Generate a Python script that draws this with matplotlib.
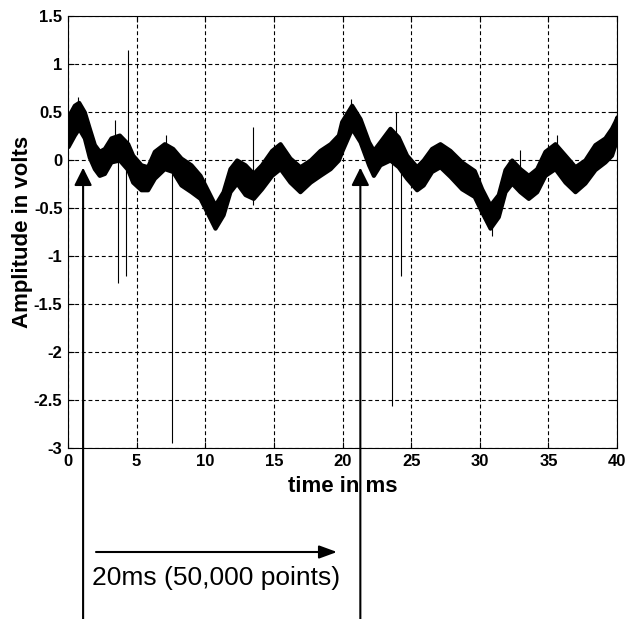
import numpy as np
import matplotlib.pyplot as plt
from matplotlib.ticker import FuncFormatter

# band of the noisy signal: upper / lower edge (volts)
time_ms = [0.0, 0.46, 0.78, 1.19, 1.55, 1.92, 2.28, 2.65, 3.13, 3.74, 4.35, 4.71,
           5.32, 5.8, 6.29, 7.02, 7.63, 8.23, 8.96, 9.62, 10.22, 10.71, 11.3, 11.8,
           12.29, 12.9, 13.5, 14.1, 14.84, 15.45, 16.17, 16.9, 17.65, 18.36, 19.1,
           19.7, 19.94, 20.67, 21.28, 21.9, 22.25, 22.73, 23.46, 24.06, 24.67, 25.4,
           25.88, 26.49, 27.1, 27.83, 28.68, 29.6, 30.14, 30.75, 31.35, 31.84, 32.33,
           32.93, 33.54, 34.15, 34.75, 35.48, 36.21, 36.94, 37.66, 38.39, 39.12,
           39.6, 39.85, 40.0]
upper_v = [0.45, 0.57, 0.60, 0.50, 0.33, 0.16, 0.09, 0.12, 0.23, 0.26, 0.17, 0.05,
           -0.05, -0.07, 0.09, 0.17, 0.12, 0.02, -0.05, -0.16, -0.33, -0.47, -0.33, -0.09,
           0.0, -0.05, -0.14, -0.05, 0.10, 0.17, 0.02, -0.07, 0.0, 0.10, 0.17,
           0.26, 0.40, 0.57, 0.43, 0.19, 0.10, 0.19, 0.33, 0.24, 0.05, -0.07,
           0.0, 0.12, 0.17, 0.10, -0.02, -0.11, -0.30, -0.47, -0.36, -0.10, 0.0,
           -0.09, -0.16, -0.09, 0.09, 0.17, 0.05, -0.07, 0.0, 0.16, 0.23,
           0.33, 0.40, 0.45]
lower_v = [0.14, 0.26, 0.33, 0.23, 0.03, -0.09, -0.16, -0.14, -0.02, 0.0, -0.10, -0.23,
           -0.31, -0.31, -0.19, -0.09, -0.12, -0.26, -0.33, -0.40, -0.57, -0.71, -0.57, -0.33,
           -0.24, -0.36, -0.40, -0.30, -0.16, -0.09, -0.23, -0.33, -0.23, -0.16, -0.09,
           0.0, 0.09, 0.33, 0.19, -0.05, -0.16, -0.05, 0.0, -0.07, -0.19, -0.31,
           -0.26, -0.12, -0.07, -0.17, -0.30, -0.38, -0.54, -0.71, -0.59, -0.33, -0.24,
           -0.33, -0.40, -0.33, -0.16, -0.09, -0.23, -0.33, -0.24, -0.10, -0.02,
           0.05, 0.16, 0.20]

# isolated spikes (time, low end, high end)
spike_t = [0.72, 3.42, 3.66, 4.20, 4.38, 7.14, 7.55, 13.5, 20.6, 23.63, 23.90, 24.26, 30.9, 32.9, 35.6]
spike_lo = [0.30, 0.10, -1.28, -1.21, -0.05, 0.00, -2.95, -0.47, 0.40, -2.56, 0.00, -1.21, -0.79, -0.10, 0.00]
spike_hi = [0.66, 0.42, 0.10, 0.05, 1.15, 0.26, 0.00, 0.34, 0.64, 0.10, 0.50, 0.05, -0.50, 0.10, 0.26]

marker_t = [1.1, 21.3]
x_ticks = [0, 5, 10, 15, 20, 25, 30, 35, 40]
y_ticks = [-3, -2.5, -2, -1.5, -1, -0.5, 0, 0.5, 1, 1.5]

plt.rcParams['axes.unicode_minus'] = False
plt.rcParams['font.family'] = 'Liberation Sans'

fig = plt.figure(figsize=(6.26, 6.19), dpi=100)
ax = fig.add_axes([68 / 626, 1 - 448 / 619, 549 / 626, 432 / 619])

ax.fill_between(time_ms, lower_v, upper_v, color='black', edgecolor='black', lw=3.0, zorder=2)
ax.vlines(spike_t, spike_lo, spike_hi, color='black', lw=0.8, zorder=2)

ax.set_xlim(0, 40)
ax.set_ylim(-3, 1.5)
ax.set_xticks(x_ticks)
ax.set_yticks(y_ticks)
ax.yaxis.set_major_formatter(FuncFormatter(lambda v, p: f'{v:g}'))
ax.grid(True, color='black', linestyle=(0, (3.5, 2.5)), lw=0.8)
ax.tick_params(direction='in', length=4, top=True, right=True, width=0.8, pad=4)
for lab in ax.get_xticklabels() + ax.get_yticklabels():
    lab.set_fontweight('bold')
    lab.set_fontsize(12)
for s in ax.spines.values():
    s.set_linewidth(0.8)

ax.set_xlabel('time in ms', fontweight='bold', fontsize=16, labelpad=5)
ax.set_ylabel('Amplitude in volts', fontweight='bold', fontsize=16)
ax.yaxis.set_label_coords(-0.064, 0.5)

# the two markers, running from the bottom of the figure up into the plot
for t in marker_t:
    ax.annotate('', xy=(t, -0.08), xycoords='data',
                xytext=(t, 0), textcoords=('data', 'figure fraction'),
                arrowprops=dict(arrowstyle='-|>,head_length=0.6,head_width=0.3', mutation_scale=18,
                                lw=1.5, color='black', shrinkA=0, shrinkB=0),
                annotation_clip=False, zorder=5)

ax.annotate('', xy=(19.6, 1 - 552 / 619), xycoords=('data', 'figure fraction'),
            xytext=(2.04, 1 - 552 / 619), textcoords=('data', 'figure fraction'),
            arrowprops=dict(arrowstyle='-|>,head_length=0.6,head_width=0.22', mutation_scale=18,
                            lw=1.5, color='black', shrinkA=0, shrinkB=0),
            annotation_clip=False)
ax.annotate('20ms (50,000 points)', xy=(1.75, 1 - 578 / 619), xycoords=('data', 'figure fraction'),
            ha='left', va='center', fontsize=19, annotation_clip=False)

fig.savefig('out.png', dpi=100)
